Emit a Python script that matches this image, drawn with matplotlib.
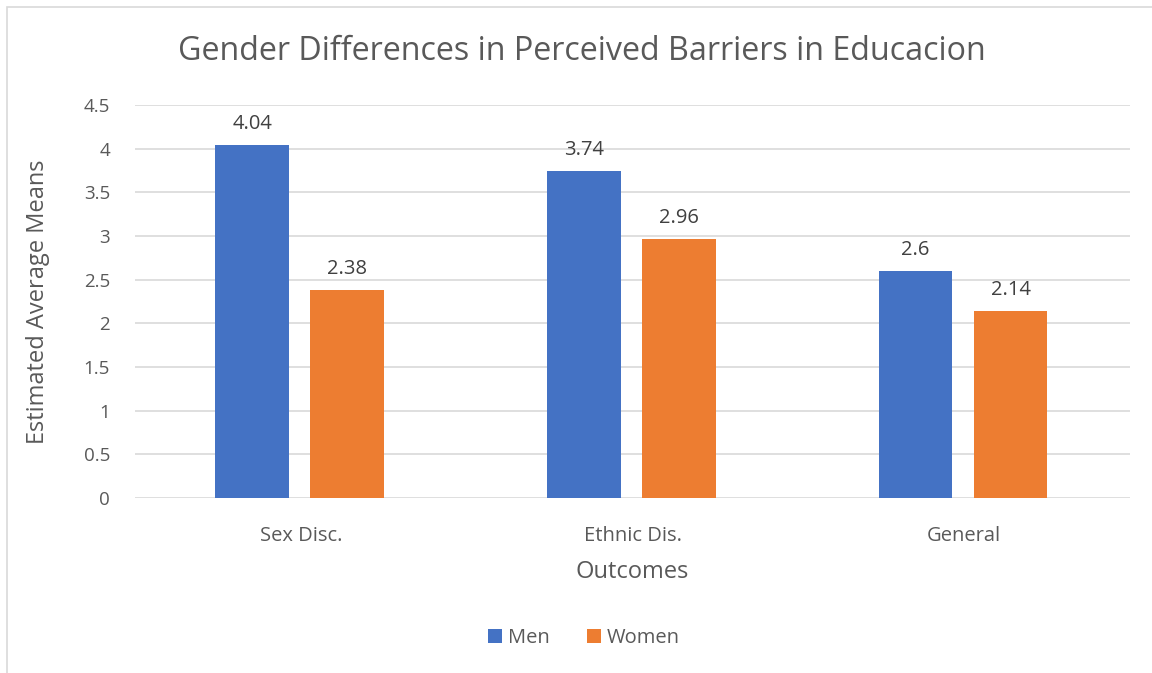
import matplotlib.pyplot as plt
import matplotlib.patches as mpatches
import numpy as np

categories = ['Sex Disc.', 'Ethnic Dis.', 'General']
men = [4.04, 3.74, 2.6]
women = [2.38, 2.96, 2.14]

plt.rcParams['font.family'] = ['Open Sans', 'DejaVu Sans']
txt = '#595959'
W, H = 1152, 673

fig = plt.figure(figsize=(W / 100, H / 100), dpi=100)
ax = fig.add_axes([135 / W, 1 - 498 / H, (1130 - 135) / W, (498 - 105) / H])

x = np.arange(len(categories))
bw = 0.222
b1 = ax.bar(x - 0.147, men, bw, color='#4472c4', label='Men', zorder=3)
b2 = ax.bar(x + 0.140, women, bw, color='#ed7d31', label='Women', zorder=3)
for bars, vals in ((b1, men), (b2, women)):
    for r, v in zip(bars, vals):
        ax.text(r.get_x() + r.get_width() / 2, v + 0.13, '{:g}'.format(v),
                ha='center', va='bottom', fontsize=14.5, color='#404040')

ax.set_xlim(-0.5, 2.5)
ax.set_ylim(0, 4.5)
ax.set_yticks(np.arange(0, 4.51, 0.5))
ax.set_yticklabels(['0', '0.5', '1', '1.5', '2', '2.5', '3', '3.5', '4', '4.5'])
ax.set_xticks(x)
ax.set_xticklabels(categories)
ax.tick_params(length=0, labelsize=13.5, colors=txt, pad=18)
ax.tick_params(axis='x', labelsize=14.5, pad=20)
ax.grid(axis='y', color='#d9d9d9', lw=1.2, zorder=0)
for s in ax.spines.values():
    s.set_visible(False)

ax.set_ylabel('Estimated Average Means', fontsize=17, color=txt, labelpad=24)
ax.set_xlabel('Outcomes', fontsize=17, color=txt, labelpad=10)
fig.text(582 / W, 1 - 52 / H, 'Gender Differences in Perceived Barriers in Educacion',
         ha='center', va='center', fontsize=23.2, color=txt)

fig.legend(loc='center', bbox_to_anchor=(584 / W, 1 - 638 / H), ncol=2, frameon=False,
           fontsize=14.5, labelcolor=txt, handlelength=0.7, handleheight=0.7,
           handletextpad=0.3, columnspacing=1.8)

fig.patches.append(mpatches.Rectangle((7 / W, -0.05), 1.1, 1 - 7 / H + 0.05,
                                      transform=fig.transFigure, fill=False,
                                      ec='#d9d9d9', lw=1.2))

fig.savefig('out.png', dpi=100)
